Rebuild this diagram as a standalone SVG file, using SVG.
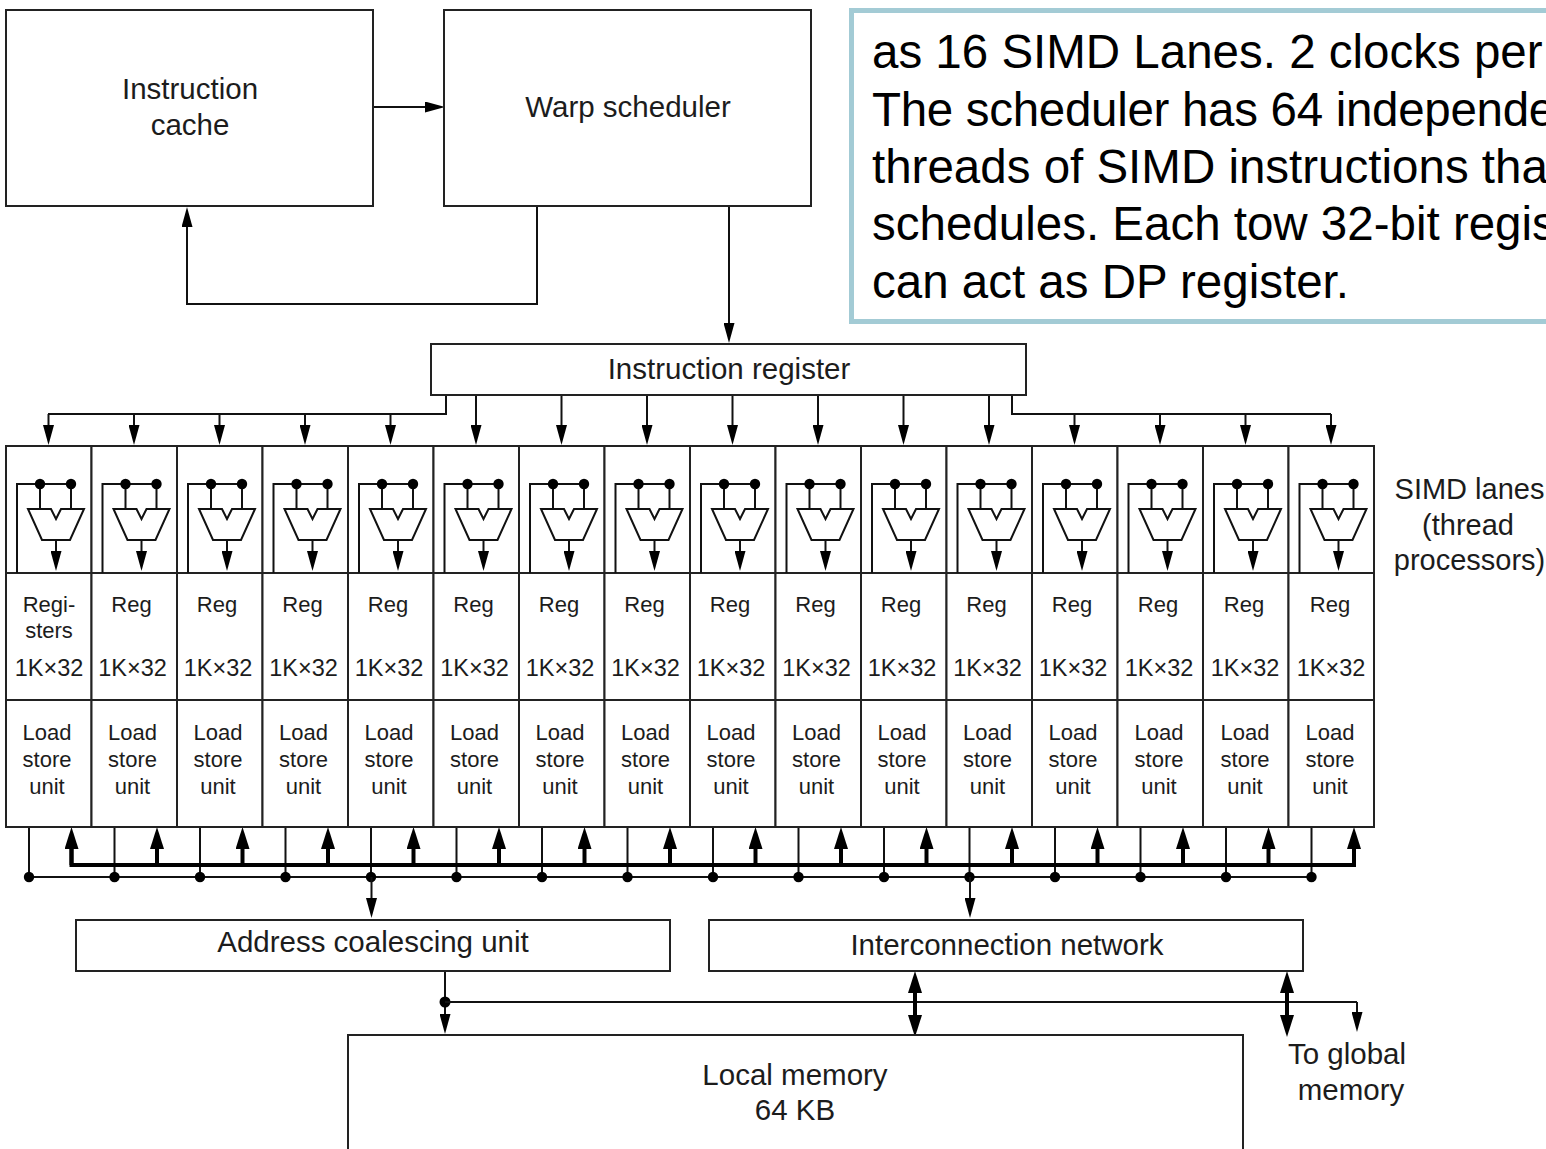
<svg xmlns="http://www.w3.org/2000/svg" width="1546" height="1149" viewBox="0 0 1546 1149">
<style>
text{font-family:"Liberation Sans",Arial,sans-serif;fill:#1c1c1c;text-anchor:middle}
.box{fill:#fff;stroke:#222;stroke-width:2}
.w{fill:none;stroke:#111;stroke-width:2}
.wa{fill:none;stroke:#111;stroke-width:2;marker-end:url(#ah)}
.t{fill:none;stroke:#000;stroke-width:4}
.ta{fill:none;stroke:#000;stroke-width:4;marker-end:url(#th)}
.dot{fill:#000}
.l{font-size:29.500px}
.m{font-size:29px}
.s{font-size:22px}
.k{font-size:23.500px}
.c{font-size:47.500px;text-anchor:start;fill:#000}
</style>
<defs>
<marker id="ah" markerUnits="userSpaceOnUse" markerWidth="20" markerHeight="11" refX="0" refY="5.500" orient="auto"><path d="M0 0L20 5.500L0 11Z" fill="#000"/></marker>
<marker id="th" markerUnits="userSpaceOnUse" markerWidth="22" markerHeight="14" refX="0" refY="7" orient="auto-start-reverse"><path d="M0 0L22 7L0 14Z" fill="#000"/></marker>
<g id="cell"><rect class="box" x="6" y="446" width="85.5" height="127"/><rect class="box" x="6" y="573" width="85.5" height="127"/><rect class="box" x="6" y="700" width="85.5" height="127"/></g>
<g id="alu"><path class="w" d="M40 484H17V573M40 484H71M40 484V509M71 484V509"/><circle class="dot" cx="40" cy="484" r="5.2"/><circle class="dot" cx="71" cy="484" r="5.2"/><path class="w" d="M28 509H51L56 519L61 509H84L70 540H42Z"/><path class="wa" d="M56 540V551"/></g>
</defs>
<g id="callout"><rect x="851.5" y="10.5" width="720" height="311" fill="#fff" stroke="#a3cbd5" stroke-width="5"/>
<text class="c" x="872" y="68">as 16 SIMD Lanes. 2 clocks per</text>
<text class="c" x="872" y="126" letter-spacing="-0.3">The scheduler has 64 independe</text>
<text class="c" x="872" y="183">threads of SIMD instructions tha</text>
<text class="c" x="872" y="240">schedules. Each tow 32-bit regis</text>
<text class="c" x="872" y="298">can act as DP register.</text></g>
<g id="connectors">
<path class="wa" d="M373 107H425"/>
<path class="w" d="M537 206V304H187V227"/><path class="wa" d="M187 228V227"/>
<path class="wa" d="M729 206V323"/>
<path class="w" d="M446 395V414H48M1012 395V414H1331"/>
<path class="wa" d="M48.500 414V425"/><path class="wa" d="M134 414V425"/><path class="wa" d="M219.500 414V425"/><path class="wa" d="M305 414V425"/><path class="wa" d="M390.500 414V425"/>
<path class="wa" d="M476 395V425"/><path class="wa" d="M561.500 395V425"/><path class="wa" d="M647 395V425"/><path class="wa" d="M732.500 395V425"/><path class="wa" d="M818 395V425"/><path class="wa" d="M903.500 395V425"/><path class="wa" d="M989 395V425"/>
<path class="wa" d="M1074.500 414V425"/><path class="wa" d="M1160 414V425"/><path class="wa" d="M1245.500 414V425"/><path class="wa" d="M1331 414V425"/>
<path class="w" d="M29 827V877H1312M114.500 827V877M200 827V877M285.500 827V877M371 827V877M456.500 827V877M542 827V877M627.500 827V877M713 827V877M798.500 827V877M884 827V877M969.500 827V877M1055 827V877M1140.500 827V877M1226 827V877M1311.500 827V877"/>
<g class="dot"><circle cx="29" cy="877" r="5.200"/><circle cx="114.500" cy="877" r="5.200"/><circle cx="200" cy="877" r="5.200"/><circle cx="285.500" cy="877" r="5.200"/><circle cx="371" cy="877" r="5.200"/><circle cx="456.500" cy="877" r="5.200"/><circle cx="542" cy="877" r="5.200"/><circle cx="627.500" cy="877" r="5.200"/><circle cx="713" cy="877" r="5.200"/><circle cx="798.500" cy="877" r="5.200"/><circle cx="884" cy="877" r="5.200"/><circle cx="969.500" cy="877" r="5.200"/><circle cx="1055" cy="877" r="5.200"/><circle cx="1140.500" cy="877" r="5.200"/><circle cx="1226" cy="877" r="5.200"/><circle cx="1311.500" cy="877" r="5.200"/></g>
<path class="t" d="M71.500 849V865H1354V849"/>
<path class="ta" d="M71.500 865V849"/><path class="ta" d="M157 865V849"/><path class="ta" d="M242.500 865V849"/><path class="ta" d="M328 865V849"/><path class="ta" d="M413.500 865V849"/><path class="ta" d="M499 865V849"/><path class="ta" d="M584.500 865V849"/><path class="ta" d="M670 865V849"/><path class="ta" d="M755.500 865V849"/><path class="ta" d="M841 865V849"/><path class="ta" d="M926.500 865V849"/><path class="ta" d="M1012 865V849"/><path class="ta" d="M1097.500 865V849"/><path class="ta" d="M1183 865V849"/><path class="ta" d="M1268.500 865V849"/><path class="ta" d="M1354 865V849"/>
<path class="wa" d="M371.500 877V898"/><path class="wa" d="M970 877V898"/>
<path class="wa" d="M445 971V1014"/><circle class="dot" cx="445" cy="1002" r="5.500"/>
<path class="w" d="M445 1002H1357"/><path class="wa" d="M1357 1002V1012"/>
<path d="M915 993V1015" class="t" marker-start="url(#th)" marker-end="url(#th)"/>
<path d="M1287 993V1015" class="t" marker-start="url(#th)" marker-end="url(#th)"/>
</g>
<g id="instruction-cache"><rect class="box" x="6" y="10" width="367" height="196"/><text class="l" x="190" y="99">Instruction</text><text class="l" x="190" y="135">cache</text></g>
<g id="warp-scheduler"><rect class="box" x="444" y="10" width="367" height="196"/><text class="l" x="628" y="117">Warp scheduler</text></g>
<g id="instruction-register"><rect class="box" x="431" y="344" width="595" height="51"/><text class="l" x="729" y="379">Instruction register</text></g>
<g id="lane-0"><use href="#cell"/><use href="#alu"/><text class="s" x="49" y="612">Regi-</text><text class="s" x="49" y="638">sters</text><text class="k" x="49" y="676">1K×32</text><text class="s" x="47" y="740">Load</text><text class="s" x="47" y="767">store</text><text class="s" x="47" y="794">unit</text></g>
<g id="lane-1"><use href="#cell" x="85.500"/><use href="#alu" x="85.500"/><text class="s" x="131.500" y="612">Reg</text><text class="k" x="132.500" y="676">1K×32</text><text class="s" x="132.500" y="740">Load</text><text class="s" x="132.500" y="767">store</text><text class="s" x="132.500" y="794">unit</text></g>
<g id="lane-2"><use href="#cell" x="171"/><use href="#alu" x="171"/><text class="s" x="217" y="612">Reg</text><text class="k" x="218" y="676">1K×32</text><text class="s" x="218" y="740">Load</text><text class="s" x="218" y="767">store</text><text class="s" x="218" y="794">unit</text></g>
<g id="lane-3"><use href="#cell" x="256.500"/><use href="#alu" x="256.500"/><text class="s" x="302.500" y="612">Reg</text><text class="k" x="303.500" y="676">1K×32</text><text class="s" x="303.500" y="740">Load</text><text class="s" x="303.500" y="767">store</text><text class="s" x="303.500" y="794">unit</text></g>
<g id="lane-4"><use href="#cell" x="342"/><use href="#alu" x="342"/><text class="s" x="388" y="612">Reg</text><text class="k" x="389" y="676">1K×32</text><text class="s" x="389" y="740">Load</text><text class="s" x="389" y="767">store</text><text class="s" x="389" y="794">unit</text></g>
<g id="lane-5"><use href="#cell" x="427.500"/><use href="#alu" x="427.500"/><text class="s" x="473.500" y="612">Reg</text><text class="k" x="474.500" y="676">1K×32</text><text class="s" x="474.500" y="740">Load</text><text class="s" x="474.500" y="767">store</text><text class="s" x="474.500" y="794">unit</text></g>
<g id="lane-6"><use href="#cell" x="513"/><use href="#alu" x="513"/><text class="s" x="559" y="612">Reg</text><text class="k" x="560" y="676">1K×32</text><text class="s" x="560" y="740">Load</text><text class="s" x="560" y="767">store</text><text class="s" x="560" y="794">unit</text></g>
<g id="lane-7"><use href="#cell" x="598.500"/><use href="#alu" x="598.500"/><text class="s" x="644.500" y="612">Reg</text><text class="k" x="645.500" y="676">1K×32</text><text class="s" x="645.500" y="740">Load</text><text class="s" x="645.500" y="767">store</text><text class="s" x="645.500" y="794">unit</text></g>
<g id="lane-8"><use href="#cell" x="684"/><use href="#alu" x="684"/><text class="s" x="730" y="612">Reg</text><text class="k" x="731" y="676">1K×32</text><text class="s" x="731" y="740">Load</text><text class="s" x="731" y="767">store</text><text class="s" x="731" y="794">unit</text></g>
<g id="lane-9"><use href="#cell" x="769.500"/><use href="#alu" x="769.500"/><text class="s" x="815.500" y="612">Reg</text><text class="k" x="816.500" y="676">1K×32</text><text class="s" x="816.500" y="740">Load</text><text class="s" x="816.500" y="767">store</text><text class="s" x="816.500" y="794">unit</text></g>
<g id="lane-10"><use href="#cell" x="855"/><use href="#alu" x="855"/><text class="s" x="901" y="612">Reg</text><text class="k" x="902" y="676">1K×32</text><text class="s" x="902" y="740">Load</text><text class="s" x="902" y="767">store</text><text class="s" x="902" y="794">unit</text></g>
<g id="lane-11"><use href="#cell" x="940.500"/><use href="#alu" x="940.500"/><text class="s" x="986.500" y="612">Reg</text><text class="k" x="987.500" y="676">1K×32</text><text class="s" x="987.500" y="740">Load</text><text class="s" x="987.500" y="767">store</text><text class="s" x="987.500" y="794">unit</text></g>
<g id="lane-12"><use href="#cell" x="1026"/><use href="#alu" x="1026"/><text class="s" x="1072" y="612">Reg</text><text class="k" x="1073" y="676">1K×32</text><text class="s" x="1073" y="740">Load</text><text class="s" x="1073" y="767">store</text><text class="s" x="1073" y="794">unit</text></g>
<g id="lane-13"><use href="#cell" x="1111.500"/><use href="#alu" x="1111.500"/><text class="s" x="1158" y="612">Reg</text><text class="k" x="1159" y="676">1K×32</text><text class="s" x="1159" y="740">Load</text><text class="s" x="1159" y="767">store</text><text class="s" x="1159" y="794">unit</text></g>
<g id="lane-14"><use href="#cell" x="1197"/><use href="#alu" x="1197"/><text class="s" x="1244" y="612">Reg</text><text class="k" x="1245" y="676">1K×32</text><text class="s" x="1245" y="740">Load</text><text class="s" x="1245" y="767">store</text><text class="s" x="1245" y="794">unit</text></g>
<g id="lane-15"><use href="#cell" x="1282.500"/><use href="#alu" x="1282.500"/><text class="s" x="1330" y="612">Reg</text><text class="k" x="1331" y="676">1K×32</text><text class="s" x="1330" y="740">Load</text><text class="s" x="1330" y="767">store</text><text class="s" x="1330" y="794">unit</text></g>
<g id="simd-label"><text class="m" x="1469.500" y="499">SIMD lanes</text><text class="m" x="1468" y="535">(thread</text><text class="m" x="1469.500" y="570">processors)</text></g>
<g id="address-coalescing-unit"><rect class="box" x="76" y="920" width="594" height="51"/><text class="l" x="373" y="952">Address coalescing unit</text></g>
<g id="interconnection-network"><rect class="box" x="709" y="920" width="594" height="51"/><text class="l" x="1007" y="955">Interconnection network</text></g>
<g id="local-memory"><rect class="box" x="348" y="1035" width="895" height="130"/><text class="l" x="795" y="1085">Local memory</text><text class="l" x="795" y="1120">64 KB</text></g>
<g id="global-label"><text class="l" x="1347" y="1064">To global</text><text class="l" x="1351" y="1100">memory</text></g>
</svg>
